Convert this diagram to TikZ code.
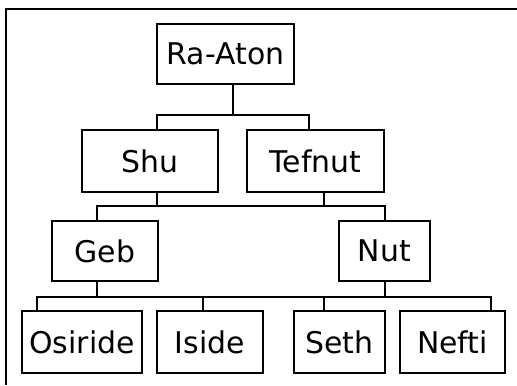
\documentclass[tikz,border=0pt]{standalone}
\usepackage{fontspec}
\setmainfont{DejaVu Sans}
\begin{document}
\begin{tikzpicture}[x=1bp,y=-1bp,
  god/.style={draw, line width=1.4bp, inner sep=0pt, font=\fontsize{30}{32}\selectfont},
  link/.style={line width=1.4bp}]
\useasboundingbox (0,0) rectangle (517,385);
% frame edges
\draw[line width=1.5bp] (6,385) -- (6,9) -- (517,9);
% generations
\node[god, minimum width=137bp, minimum height=60bp] (ra) at (225.5,54) {Ra-Aton};
\node[god, minimum width=136bp, minimum height=62bp] (shu) at (150,161) {Shu};
\node[god, minimum width=137bp, minimum height=62bp] (tefnut) at (315.5,161) {Tefnut};
\node[god, minimum width=106bp, minimum height=60bp] (geb) at (105,251) {Geb};
\node[god, minimum width=91bp, minimum height=60bp] (nut) at (384.5,251) {Nut};
\node[god, minimum width=120bp, minimum height=62bp] (osiride) at (82,342) {Osiride};
\node[god, minimum width=106bp, minimum height=62bp] (iside) at (210,342) {Iside};
\node[god, minimum width=91bp, minimum height=62bp] (seth) at (339.5,342) {Seth};
\node[god, minimum width=105bp, minimum height=62bp] (nefti) at (452.5,342) {Nefti};
% bus junctions
\coordinate (a0) at (233,115);
\coordinate (a1) at (157,115);
\coordinate (a2) at (309,115);
\coordinate (b0) at (157,206);
\coordinate (b3) at (324,206);
\coordinate (b1) at (97,206);
\coordinate (b2) at (385,206);
\coordinate (c0) at (97,297);
\coordinate (c5) at (385,297);
\coordinate (c1) at (37,297);
\coordinate (c2) at (203,297);
\coordinate (c3) at (324,297);
\coordinate (c4) at (491,297);
% Ra-Aton -> Shu, Tefnut
\draw[link] (a0 |- ra.south) -- (a0);
\draw[link] (a1 |- shu.north) -- (a1) -- (a2) -- (a2 |- tefnut.north);
% Shu, Tefnut -> Geb, Nut
\draw[link] (b0 |- shu.south) -- (b0);
\draw[link] (b3 |- tefnut.south) -- (b3);
\draw[link] (b1 |- geb.north) -- (b1) -- (b2) -- (b2 |- nut.north);
% Geb, Nut -> children
\draw[link] (c0 |- geb.south) -- (c0);
\draw[link] (c5 |- nut.south) -- (c5);
\draw[link] (c1 |- osiride.north) -- (c1) -- (c4) -- (c4 |- nefti.north);
\draw[link] (c2) -- (c2 |- iside.north);
\draw[link] (c3) -- (c3 |- seth.north);
\end{tikzpicture}
\end{document}
